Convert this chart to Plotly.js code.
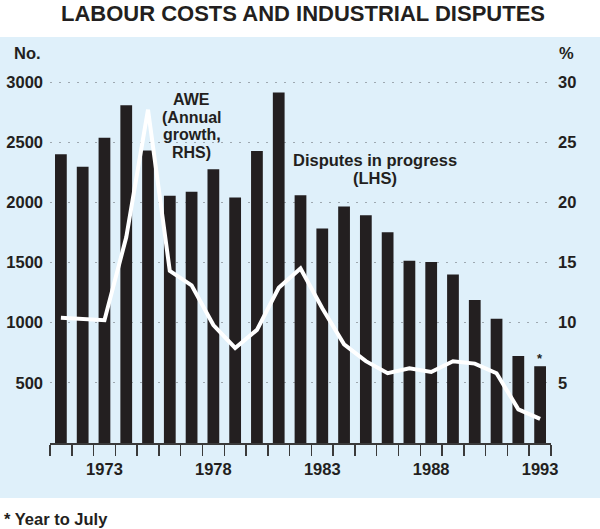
<!DOCTYPE html>
<html>
<head>
<meta charset="utf-8">
<script src="https://cdn.plot.ly/plotly-3.0.1.min.js"></script>
<style>html,body{margin:0;padding:0;background:#fff;}#chart{width:600px;height:529px;}</style>
</head>
<body>
<div id="chart"></div>
<script>
// Data (years 1971–1993)
const years = [1971,1972,1973,1974,1975,1976,1977,1978,1979,1980,1981,1982,1983,1984,1985,1986,1987,1988,1989,1990,1991,1992,1993];
const disputes = [2400,2295,2537,2806,2430,2055,2089,2275,2040,2427,2914,2060,1782,1965,1893,1752,1515,1505,1400,1188,1032,724,638];
const aweGrowth = [10.4,10.3,10.2,17.1,27.7,14.3,13.1,9.8,7.9,9.4,12.9,14.5,11.2,8.2,6.8,5.8,6.2,5.9,6.8,6.6,5.8,2.8,2.0];
const xTickLabels = [1973,1978,1983,1988,1993];
const leftTicks = [500,1000,1500,2000,2500,3000];
const rightTicks = [5,10,15,20,25,30];

const ink = '#231f20';
const boundaries = years.map(y => y - 0.5).concat([years[years.length-1] + 0.5]);
const fontFam = '"Liberation Sans", Arial, Helvetica, sans-serif';

const traces = [
  {type:'bar', x: years, y: disputes, width: 0.54, marker:{color: ink}, xaxis:'x', yaxis:'y', hoverinfo:'skip'},
  {type:'scatter', mode:'lines', x: years, y: aweGrowth, line:{color:'#ffffff', width:4}, xaxis:'x', yaxis:'y2', hoverinfo:'skip'}
];

function ann(text, x, y, size, extra) {
  return Object.assign({text: text, x: x, y: y, xref:'x', yref:'y', showarrow:false,
    xanchor:'center', yanchor:'middle', font:{family: fontFam, size: size, color: ink, weight: 'bold'}}, extra || {});
}

const layout = {
  width: 600, height: 529,
  margin: {l: 50, r: 49, t: 70, b: 86},
  paper_bgcolor: '#ffffff',
  plot_bgcolor: 'rgba(0,0,0,0)',
  showlegend: false,
  font: {family: fontFam, color: ink},
  title: {text: 'LABOUR COSTS AND INDUSTRIAL DISPUTES', x: 0.505, xref: 'container', y: 0.975, yref: 'container',
    xanchor: 'center', yanchor: 'middle', font: {family: fontFam, size: 22, color: ink, weight: 'bold'}},
  xaxis: {
    range: [1970.5, 1993.5], tickvals: xTickLabels, ticktext: xTickLabels.map(String),
    ticks: 'outside', ticklen: 11, tickcolor: 'rgba(0,0,0,0)',
    tickfont: {family: fontFam, size: 16.5, color: ink, weight: 'bold'},
    showline: true, linecolor: '#3a3a3a', linewidth: 1.5, showgrid: false, zeroline: false,
    minor: {tickvals: boundaries, ticks: 'outside', ticklen: 11, tickcolor: '#3a3a3a', tickwidth: 1.5, showgrid: false},
    fixedrange: true
  },
  yaxis: {
    range: [0, 3100], tickvals: leftTicks, ticks: '', ticklabelstandoff: 6,
    tickfont: {family: fontFam, size: 16.5, color: ink, weight: 'bold'},
    showgrid: true, gridcolor: '#9ea8b0', gridwidth: 1, griddash: '2px,7px',
    zeroline: false, showline: false, fixedrange: true
  },
  yaxis2: {
    range: [0, 31], tickvals: rightTicks, ticks: '', overlaying: 'y', side: 'right', ticklabelstandoff: 6,
    tickfont: {family: fontFam, size: 16.5, color: ink, weight: 'bold'},
    showgrid: false, zeroline: false, showline: false, fixedrange: true
  },
  shapes: [
    {type: 'rect', xref: 'paper', yref: 'paper', x0: -0.0998, x1: 1.0978, y0: -0.1475, y1: 1.0885,
      fillcolor: '#dff0fa', line: {width: 0}, layer: 'below'}
  ],
  annotations: [
    {text: 'No.', xref: 'paper', yref: 'paper', x: -0.014, y: 1.0456, xanchor: 'right', yanchor: 'middle', showarrow: false,
      font: {family: fontFam, size: 16.5, color: ink, weight: 'bold'}},
    {text: '%', xref: 'paper', yref: 'paper', x: 1.012, y: 1.0456, xanchor: 'left', yanchor: 'middle', showarrow: false,
      font: {family: fontFam, size: 16.5, color: ink, weight: 'bold'}},
    ann('AWE', 1977.0, 2856, 16),
    ann('(Annual', 1977.0, 2709, 16),
    ann('growth,', 1977.0, 2563, 16),
    ann('RHS)', 1977.0, 2417, 16),
    ann('Disputes in progress', 1985.4, 2352, 16.5),
    ann('(LHS)', 1985.4, 2202, 16.5),
    ann('*', 1993.0, 700, 13),
    {text: '* Year to July', xref: 'paper', yref: 'paper', x: -0.0958, y: -0.2038, xanchor: 'left', yanchor: 'middle', showarrow: false,
      font: {family: fontFam, size: 16.5, color: ink, weight: 'bold'}}
  ]
};

Plotly.newPlot('chart', traces, layout, {staticPlot: true, displayModeBar: false});
</script>
</body>
</html>
